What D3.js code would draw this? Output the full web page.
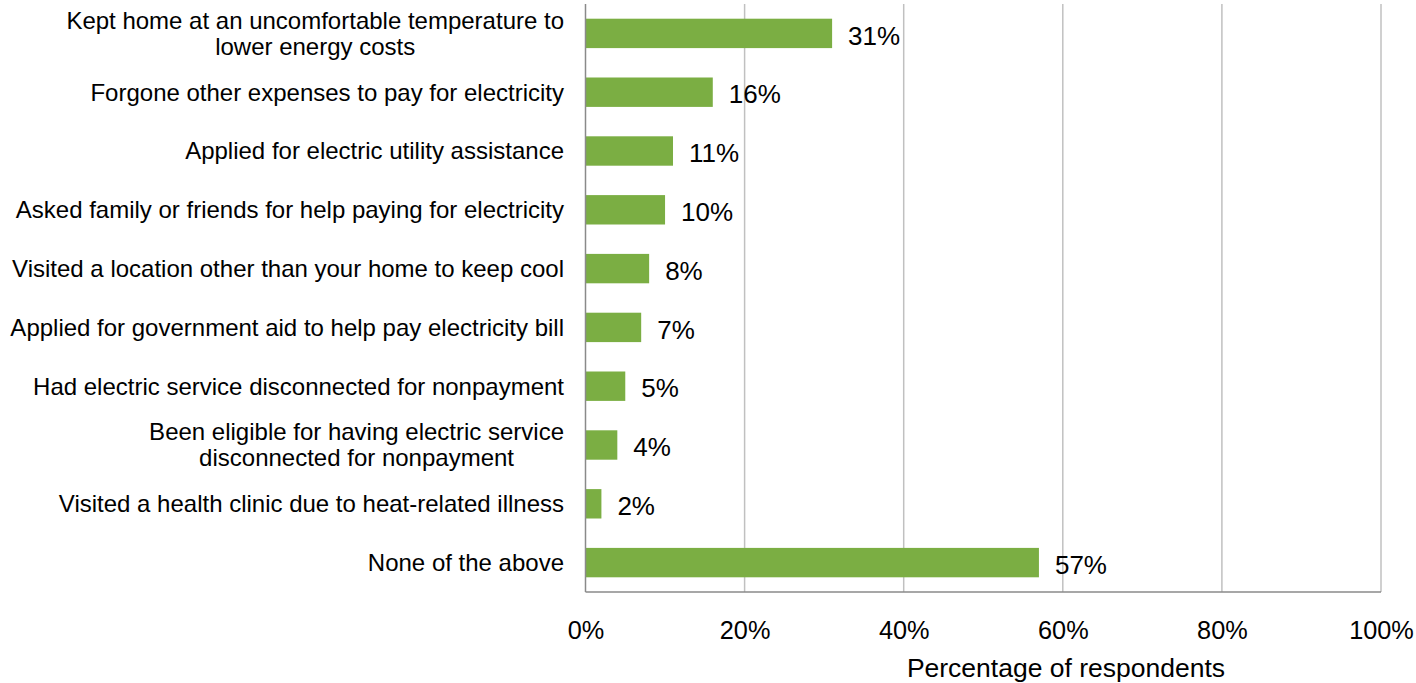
<!DOCTYPE html>
<html>
<head>
<meta charset="utf-8">
<script src="https://cdn.jsdelivr.net/npm/d3@7"></script>
<style>
  html, body { margin: 0; padding: 0; background: #fff; }
  svg { display: block; }
  text { font-family: "Liberation Sans", Arial, sans-serif; fill: #000; }
</style>
</head>
<body>
<svg id="chart" width="1416" height="683"></svg>
<script>
// Survey responses: share of respondents taking each action
const categories = [
  ["Kept home at an uncomfortable temperature to", "lower energy costs"],
  ["Forgone other expenses to pay for electricity"],
  ["Applied for electric utility assistance"],
  ["Asked family or friends for help paying for electricity"],
  ["Visited a location other than your home to keep cool"],
  ["Applied for government aid to help pay electricity bill"],
  ["Had electric service disconnected for nonpayment"],
  ["Been eligible for having electric service", "disconnected for nonpayment"],
  ["Visited a health clinic due to heat-related illness"],
  ["None of the above"]
];
const values = [31, 16, 11, 10, 8, 7, 5, 4, 2, 57];
const tickValues = [0, 20, 40, 60, 80, 100];
const axisTitle = "Percentage of respondents";

const svg = d3.select("#chart");
const plotLeft = 585.5, plotRight = 1381, plotTop = 4, plotBottom = 592;

const x = d3.scaleLinear().domain([0, 100]).range([plotLeft, plotRight]);
const y = d3.scaleBand()
  .domain(d3.range(categories.length))
  .range([plotTop, plotBottom])
  .paddingInner(0.5)
  .paddingOuter(0.25);

// vertical gridlines
svg.append("g")
  .selectAll("line")
  .data(tickValues.filter(d => d > 0))
  .join("line")
  .attr("x1", d => x(d)).attr("x2", d => x(d))
  .attr("y1", plotTop).attr("y2", plotBottom)
  .attr("stroke", "#c0c0c0")
  .attr("stroke-width", 1.5);

// bars
svg.append("g")
  .selectAll("rect")
  .data(values)
  .join("rect")
  .attr("x", x(0))
  .attr("y", (d, i) => y(i))
  .attr("width", d => x(d) - x(0))
  .attr("height", y.bandwidth())
  .attr("fill", "#7bae43");

// value labels
svg.append("g")
  .selectAll("text")
  .data(values)
  .join("text")
  .attr("x", d => x(d) + 16)
  .attr("y", (d, i) => y(i) + y.bandwidth() / 2 + 2)
  .attr("dy", "0.35em")
  .attr("font-size", 26)
  .text(d => d + "%");

// axis lines
svg.append("line")
  .attr("x1", plotLeft).attr("x2", plotLeft)
  .attr("y1", plotTop).attr("y2", plotBottom)
  .attr("stroke", "#8a8a8a").attr("stroke-width", 1.5);
svg.append("line")
  .attr("x1", plotLeft).attr("x2", plotRight)
  .attr("y1", plotBottom).attr("y2", plotBottom)
  .attr("stroke", "#8a8a8a").attr("stroke-width", 1.5);

// x tick labels
const xAxis = d3.axisBottom(x)
  .tickValues(tickValues)
  .tickFormat(d => d + "%")
  .tickSize(0)
  .tickPadding(0);
const gx = svg.append("g")
  .attr("transform", `translate(0,${plotBottom})`)
  .call(xAxis);
gx.select(".domain").remove();
gx.selectAll("text")
  .attr("y", 47)
  .attr("dy", 0)
  .attr("font-size", 25.3)
  .attr("font-family", "Liberation Sans, Arial, sans-serif")
  .attr("fill", "#000");

// category labels: block right-aligned to the axis, lines centred within the block
const lineH = 26;
const labelRight = 564;
svg.append("g")
  .selectAll("text")
  .data(categories)
  .join("text")
  .attr("text-anchor", "middle")
  .attr("font-size", 24)
  .each(function(lines, i) {
    const t = d3.select(this);
    const off = -(lines.length - 1) * lineH / 2;
    const spans = lines.map((s, k) =>
      t.append("tspan")
        .attr("y", off + k * lineH)
        .attr("dy", "0.35em")
        .text(s));
    const widest = d3.max(spans, sp => sp.node().getComputedTextLength());
    spans.forEach(sp => sp.attr("x", 0));
    t.attr("transform", `translate(${labelRight - widest / 2},${y(i) + y.bandwidth() / 2})`);
  });

// axis title
svg.append("text")
  .attr("x", 1066)
  .attr("y", 677)
  .attr("text-anchor", "middle")
  .attr("font-size", 26.5)
  .text(axisTitle);
</script>
</body>
</html>
